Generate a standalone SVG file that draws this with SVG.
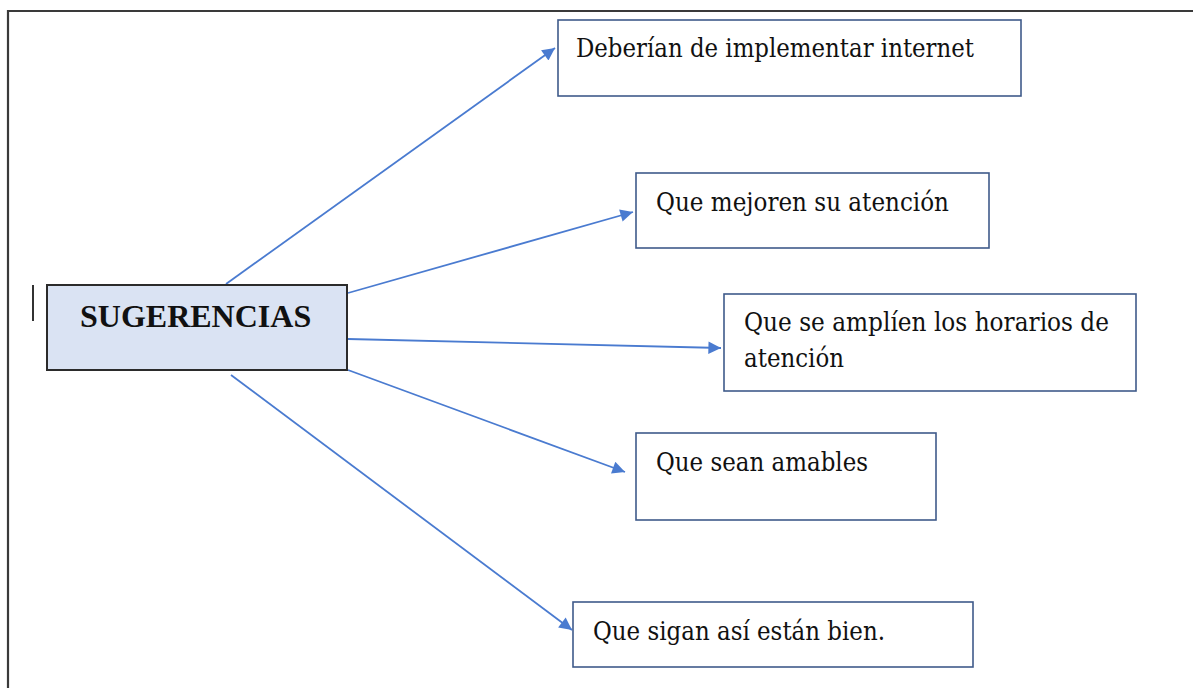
<svg xmlns="http://www.w3.org/2000/svg" width="1193" height="688" viewBox="0 0 1193 688">
<style>
.box{fill:#ffffff;stroke:#3f5a8a;stroke-width:1.6}
.main{fill:#dae3f3;stroke:#2b2b2b;stroke-width:2}
.t{font-family:"DejaVu Serif","Liberation Serif",serif;font-size:26px;fill:#111}
.tb{font-family:"Liberation Serif","Times New Roman",serif;font-size:32px;font-weight:700;fill:#111}
.c{stroke:#4a7bd0;stroke-width:1.8;fill:none;marker-end:url(#ah)}
</style>
<defs>
<marker id="ah" viewBox="0 0 10 10" refX="10" refY="5" markerWidth="8" markerHeight="7" markerUnits="strokeWidth" orient="auto">
<path d="M0,0 L10,5 L0,10 z" fill="#4a7bd0"/>
</marker>
</defs>
<rect width="1193" height="688" fill="#ffffff"/>
<g id="frame">
<path d="M8,688 L8,11 L1193,11" fill="none" stroke="#3a3a3a" stroke-width="2.2"/>
<line x1="33" y1="285" x2="33" y2="321" stroke="#333" stroke-width="2"/>
</g>
<g id="connectors">
<line class="c" x1="226" y1="284" x2="555" y2="48"/>
<line class="c" x1="348" y1="293" x2="633" y2="212"/>
<line class="c" x1="348" y1="339" x2="721" y2="348"/>
<line class="c" x1="348" y1="370" x2="625" y2="472"/>
<line class="c" x1="231" y1="375" x2="572" y2="630"/>
</g>
<g id="sugerencias">
<rect class="main" x="47" y="285" width="300" height="85"/>
<text class="tb" x="80" y="327">SUGERENCIAS</text>
</g>
<g id="n1">
<rect class="box" x="558" y="20" width="463" height="76"/>
<text class="t" x="576" y="57" textLength="398" lengthAdjust="spacingAndGlyphs">Deberían de implementar internet</text>
</g>
<g id="n2">
<rect class="box" x="636" y="173" width="353" height="75"/>
<text class="t" x="656" y="211" textLength="293" lengthAdjust="spacingAndGlyphs">Que mejoren su atención</text>
</g>
<g id="n3">
<rect class="box" x="724" y="294" width="412" height="97"/>
<text class="t" x="744" y="331" textLength="365" lengthAdjust="spacingAndGlyphs">Que se amplíen los horarios de</text>
<text class="t" x="744" y="367" textLength="100" lengthAdjust="spacingAndGlyphs">atención</text>
</g>
<g id="n4">
<rect class="box" x="636" y="433" width="300" height="87"/>
<text class="t" x="656" y="471" textLength="212" lengthAdjust="spacingAndGlyphs">Que sean amables</text>
</g>
<g id="n5">
<rect class="box" x="573" y="602" width="400" height="65"/>
<text class="t" x="593" y="640" textLength="292" lengthAdjust="spacingAndGlyphs">Que sigan así están bien.</text>
</g>
</svg>
